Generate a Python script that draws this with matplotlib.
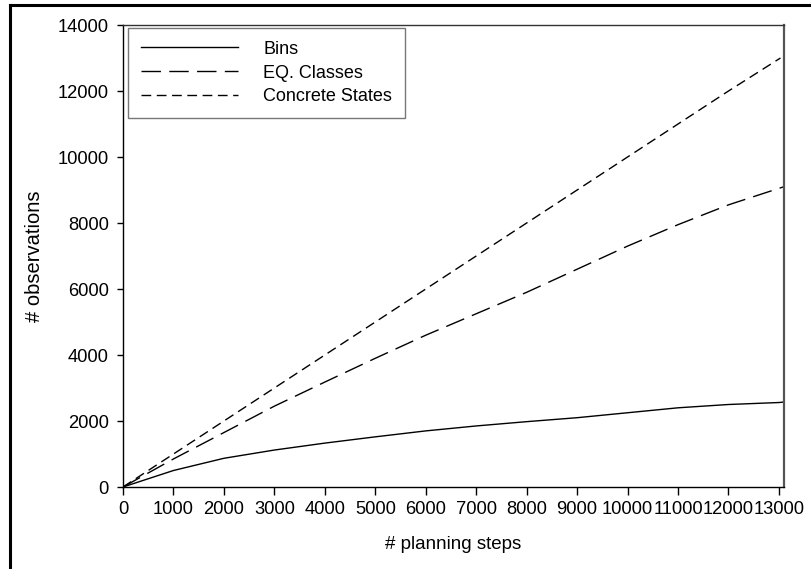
import matplotlib.pyplot as plt
from matplotlib.lines import Line2D

plt.rcParams['font.family'] = ['Liberation Sans', 'DejaVu Sans']

# data
steps = [0, 1000, 2000, 3000, 4000, 5000, 6000, 7000, 8000, 9000, 10000, 11000, 12000, 13000, 13100]
bins = [0, 500, 870, 1120, 1330, 1520, 1700, 1850, 1980, 2100, 2250, 2400, 2500, 2560, 2575]
eq_classes = [0, 850, 1650, 2450, 3180, 3900, 4600, 5250, 5900, 6600, 7300, 7950, 8550, 9050, 9100]
concrete_steps = [0, 1000, 2000, 3000, 4000, 5000, 6000, 7000, 8000, 9000, 10000, 11000, 12000, 13030]
concrete = [0, 1000, 2000, 3000, 4000, 5000, 6000, 7000, 8000, 9000, 10000, 11000, 12000, 13000]

fig = plt.figure(figsize=(8.12, 5.69), dpi=100)
ax = fig.add_axes([123 / 812, 1 - 487 / 569, (784 - 123) / 812, (487 - 25) / 569])

ax.plot(steps, bins, color='black', linewidth=1.0, linestyle='-', label='Bins')
ax.plot(steps, eq_classes, color='black', linewidth=1.0, linestyle=(0, (14, 6)), label='EQ. Classes')
ax.plot(concrete_steps, concrete, color='black', linewidth=1.0, linestyle=(0, (7, 4)), label='Concrete States')

ax.set_xlim(0, 13100)
ax.set_ylim(0, 14000)
ax.set_xticks(range(0, 13001, 1000))
ax.set_yticks(range(0, 14001, 2000))
ax.tick_params(axis='x', direction='out', length=5.8, width=1, pad=4.0, labelsize=13.2)
ax.tick_params(axis='y', direction='out', length=4.3, width=1, pad=6.0, labelsize=13.2)

for side in ['left', 'bottom']:
    ax.spines[side].set_color('black')
    ax.spines[side].set_linewidth(1.0)
ax.spines['top'].set_color('#333333')
ax.spines['top'].set_linewidth(1.0)
ax.spines['right'].set_color('#555555')
ax.spines['right'].set_linewidth(1.6)

ax.set_xlabel('# planning steps', fontsize=13.5, labelpad=13)
ax.set_ylabel('# observations', fontsize=14.5, labelpad=10)

leg = ax.legend(loc='upper left', bbox_to_anchor=(128 / 812, 1 - 28 / 569), bbox_transform=fig.transFigure,
                fontsize=13, handlelength=5.4, handletextpad=1.4, labelspacing=0.38,
                fancybox=False, framealpha=1, borderpad=0.7, borderaxespad=0)
leg.get_frame().set_edgecolor('#777777')
leg.get_frame().set_linewidth(1.0)

# thick border of the original figure (left and top only)
fig.add_artist(Line2D([10 / 812, 10 / 812], [0, 1 - 5 / 569], color='black', linewidth=2.2, transform=fig.transFigure))
fig.add_artist(Line2D([10 / 812, 1], [1 - 5 / 569, 1 - 5 / 569], color='black', linewidth=2.2, transform=fig.transFigure))

fig.savefig('out.png', dpi=100)
